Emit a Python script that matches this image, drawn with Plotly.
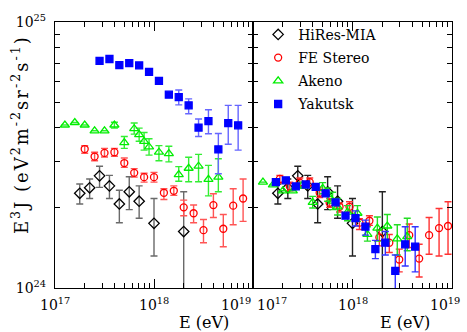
import plotly.graph_objects as go

# log10(E / eV) and E^3 J in units of 1e24 eV^2 m^-2 sr^-1 s^-1
# errors are given as (upper, lower) offsets in the same units

# ---- left panel: as published ----
HIRES_LGE = [17.25, 17.35, 17.45, 17.55, 17.65, 17.75, 17.85, 18.0, 18.3]
HIRES_J = [2.27, 2.38, 2.64, 2.42, 2.07, 2.30, 2.12, 1.75, 1.63]
HIRES_UP = [0.19, 0.19, 0.23, 0.23, 0.26, 0.32, 0.30, 0.42, 0.67]
HIRES_DN = [0.20, 0.21, 0.25, 0.25, 0.31, 0.33, 0.29, 0.43, 1.00]

FE_LGE = [17.3, 17.4, 17.5, 17.6, 17.7, 17.8, 17.9, 18.0, 18.1, 18.2,
          18.3, 18.4, 18.5, 18.6, 18.7, 18.8, 18.9]
FE_J = [3.33, 3.12, 3.22, 3.24, 2.95, 2.71, 2.61, 2.61, 2.28, 2.32,
        2.01, 1.91, 1.65, 2.05, 1.67, 2.04, 2.17]
FE_UP = [0.10, 0.12, 0.13, 0.11, 0.13, 0.10, 0.09, 0.11, 0.08, 0.10,
         0.13, 0.14, 0.16, 0.21, 0.22, 0.32, 0.40]
FE_DN = [0.12, 0.11, 0.11, 0.11, 0.11, 0.10, 0.11, 0.11, 0.13, 0.09,
         0.14, 0.15, 0.17, 0.21, 0.24, 0.31, 0.39]

AKENO_LGE = [17.1, 17.2, 17.3, 17.4, 17.5, 17.6, 17.7, 17.8, 17.85, 17.9,
             17.95, 18.05, 18.15, 18.25, 18.35, 18.45, 18.55, 18.65]
AKENO_J = [4.10, 4.19, 4.10, 3.90, 3.90, 4.10, 3.52, 3.97, 3.77, 3.56,
           3.39, 3.24, 3.20, 2.67, 2.82, 2.87, 2.56, 2.61]
AKENO_UP = [0, 0, 0, 0, 0, 0.10, 0.19, 0.20, 0.22, 0.28,
            0.25, 0.19, 0.21, 0.19, 0.28, 0.31, 0.33, 0.45]
AKENO_DN = [0, 0, 0, 0, 0, 0.11, 0.17, 0.18, 0.21, 0.26,
            0.23, 0.23, 0.22, 0.15, 0.31, 0.36, 0.34, 0.31]

YAK_LGE = [17.45, 17.55, 17.65, 17.75, 17.85, 17.95, 18.05, 18.15, 18.25,
           18.35, 18.45, 18.55, 18.65, 18.75, 18.85]
YAK_J = [7.14, 7.26, 6.89, 7.00, 6.87, 6.49, 6.01, 5.33, 5.22,
         4.86, 4.01, 4.24, 3.32, 4.17, 4.09]
YAK_UP = [0, 0, 0, 0, 0, 0, 0, 0, 0.33, 0.28, 0.31, 0.44, 0.49, 0.69, 0.77]
YAK_DN = [0, 0, 0, 0, 0, 0, 0, 0, 0.34, 0.34, 0.30, 0.44, 0.63, 0.70, 0.79]

# ---- right panel: energy scales adjusted ----
FE_R_LGE = [17.27, 17.37, 17.47, 17.57, 17.67, 17.77, 17.87, 17.97, 18.07,
            18.17, 18.27, 18.37, 18.47, 18.57, 18.67, 18.77, 18.87, 18.96]
FE_R_J = [2.57, 2.41, 2.49, 2.50, 2.28, 2.09, 2.02, 2.02, 1.76,
          1.79, 1.55, 1.48, 1.28, 1.58, 1.29, 1.58, 1.68, 1.71]
FE_R_UP = [0.08, 0.09, 0.10, 0.09, 0.10, 0.08, 0.07, 0.09, 0.06,
           0.08, 0.10, 0.11, 0.12, 0.16, 0.17, 0.26, 0.31, 0.40]
FE_R_DN = [0.09, 0.09, 0.09, 0.09, 0.09, 0.08, 0.09, 0.09, 0.10,
           0.07, 0.11, 0.12, 0.13, 0.16, 0.19, 0.24, 0.36, 0.37]

AKENO_R_LGE = [17.1, 17.2, 17.3, 17.4, 17.5, 17.6, 17.7, 17.75, 17.8,
               17.85, 17.95, 18.05, 18.15, 18.25, 18.35, 18.45, 18.55]
AKENO_R_J = [2.50, 2.44, 2.32, 2.32, 2.44, 2.10, 2.37, 2.25, 2.12,
             2.02, 1.93, 1.91, 1.59, 1.68, 1.71, 1.53, 1.56]
AKENO_R_UP = [0, 0, 0, 0, 0.06, 0.11, 0.12, 0.13, 0.17,
              0.15, 0.11, 0.13, 0.11, 0.17, 0.18, 0.20, 0.27]
AKENO_R_DN = [0, 0, 0, 0, 0.07, 0.10, 0.11, 0.13, 0.15,
              0.14, 0.14, 0.13, 0.09, 0.18, 0.21, 0.20, 0.18]

YAK_R_LGE = [17.23, 17.33, 17.43, 17.53, 17.63, 17.73, 17.83, 17.93, 18.03,
             18.13, 18.23, 18.33, 18.43, 18.53, 18.63]
YAK_R_J = [2.50, 2.54, 2.41, 2.45, 2.40, 2.27, 2.10, 1.87, 1.83,
           1.70, 1.40, 1.48, 1.16, 1.46, 1.43]
YAK_R_UP = [0, 0, 0, 0, 0, 0, 0, 0, 0.12, 0.10, 0.11, 0.15, 0.17, 0.24, 0.27]
YAK_R_DN = [0, 0, 0, 0, 0, 0, 0, 0, 0.12, 0.12, 0.11, 0.15, 0.22, 0.25, 0.28]

FONT = "DejaVu Serif"
SPLIT = 198 / 397


def series(name, lge, j, up, dn, symbol, color, ecolor, size, panel, legend):
    xa, ya = ("x", "y") if panel == 0 else ("x2", "y2")
    return go.Scatter(
        x=[10 ** v for v in lge],
        y=[v * 1e24 for v in j],
        mode="markers",
        name=name,
        legendgroup=name,
        showlegend=legend,
        xaxis=xa, yaxis=ya,
        marker=dict(symbol=symbol, color=color, size=size,
                    line=dict(color=color, width=1.3)),
        error_y=dict(type="data", symmetric=False,
                     array=[v * 1e24 for v in up],
                     arrayminus=[v * 1e24 for v in dn],
                     color=ecolor, thickness=1.4, width=3.5),
    )


traces = [
    series("HiRes-MIA", HIRES_LGE, HIRES_J, HIRES_UP, HIRES_DN,
           "diamond-open", "black", "#6a6a6a", 8, 0, True),
    series("FE Stereo", FE_LGE, FE_J, FE_UP, FE_DN,
           "circle-open", "#ff0000", "#ff5555", 7, 0, True),
    series("Akeno", AKENO_LGE, AKENO_J, AKENO_UP, AKENO_DN,
           "triangle-up-open", "#00ee00", "#33ee33", 8, 0, True),
    series("Yakutsk", YAK_LGE, YAK_J, YAK_UP, YAK_DN,
           "square", "#0000ff", "#6666ff", 7, 0, True),
    series("HiRes-MIA", HIRES_LGE, HIRES_J, HIRES_UP, HIRES_DN,
           "diamond-open", "black", "#222222", 8, 1, False),
    series("FE Stereo", FE_R_LGE, FE_R_J, FE_R_UP, FE_R_DN,
           "circle-open", "#ff0000", "#ff3333", 7, 1, False),
    series("Akeno", AKENO_R_LGE, AKENO_R_J, AKENO_R_UP, AKENO_R_DN,
           "triangle-up-open", "#00ee00", "#22dd22", 8, 1, False),
    series("Yakutsk", YAK_R_LGE, YAK_R_J, YAK_R_UP, YAK_R_DN,
           "square", "#0000ff", "#3333ff", 7, 1, False),
]

fig = go.Figure(traces)

MINOR_X = [k * 10 ** n for n in (17, 18) for k in range(2, 10)]
MINOR_Y = [k * 1e24 for k in range(2, 10)]

xcommon = dict(
    type="log", range=[17, 19], showgrid=False, zeroline=False,
    showline=True, linecolor="black", linewidth=1.3, mirror="ticks",
    ticks="inside", ticklen=9, tickwidth=1, tickcolor="black",
    tickvals=[1e17, 1e18, 1e19], showticklabels=False,
    minor=dict(tickvals=MINOR_X, ticks="inside", ticklen=5,
               tickcolor="black", tickwidth=1, showgrid=False),
)
ycommon = dict(
    type="log", range=[24, 25], showgrid=False, zeroline=False,
    showline=True, linecolor="black", linewidth=1.3, mirror="ticks",
    ticks="inside", ticklen=9, tickwidth=1, tickcolor="black",
    tickvals=[1e24, 1e25],
    minor=dict(tickvals=MINOR_Y, ticks="inside", ticklen=5,
               tickcolor="black", tickwidth=1, showgrid=False),
)

fig.update_layout(
    width=467, height=332,
    margin=dict(l=55, r=15, t=12, b=44),
    paper_bgcolor="white", plot_bgcolor="white",
    font=dict(family=FONT, size=13, color="black"),
    xaxis=dict(xcommon, domain=[0, SPLIT], anchor="y"),
    xaxis2=dict(xcommon, domain=[SPLIT, 1], anchor="y2"),
    yaxis=dict(ycommon, anchor="x", ticktext=["10<sup>24</sup>", "10<sup>25</sup>"],
               ticklabelstandoff=5, tickfont=dict(size=14)),
    yaxis2=dict(ycommon, anchor="x2", matches="y", showticklabels=False),
    legend=dict(x=SPLIT + 0.013, y=1.012, xanchor="left", yanchor="top",
                bgcolor="rgba(0,0,0,0)", font=dict(family=FONT, size=14),
                tracegroupgap=2, itemsizing="trace"),
    showlegend=True,
)

# x tick labels, nudged so the ones at the panel join do not collide
labels = [
    ("x", 17, "center", 0), ("x", 18, "center", 0), ("x", 19, "right", 0),
    ("x2", 17, "left", 2), ("x2", 18, "center", 0), ("x2", 19, "right", 10),
]
for xref, lg, anchor, dx in labels:
    fig.add_annotation(
        xref=xref, yref="paper", x=lg, y=0, yanchor="top", xanchor=anchor,
        xshift=dx, yshift=-5, showarrow=False,
        text="10<sup>%d</sup>" % lg, font=dict(family=FONT, size=14),
    )

for xref, xc in (("x", 18.51), ("x2", 18.53)):
    fig.add_annotation(
        xref=xref, yref="paper", x=xc, y=0, yanchor="top", xanchor="center",
        yshift=-23, showarrow=False, text="E (eV)",
        font=dict(family=FONT, size=16),
    )

fig.add_annotation(
    xref="paper", yref="paper", x=-0.088, y=0.575, xanchor="center",
    yanchor="middle", textangle=-90, showarrow=False,
    text=('<span style="letter-spacing:2px">E<sup>3</sup>J (eV<sup>2</sup>'
          'm<sup>-2</sup>sr<sup>-2</sup>s<sup>-1</sup>)</span>'),
    font=dict(family=FONT, size=18),
)

# drop the browser's default page margin so the figure sits at the corner
fig.write_html("out.html", config={"displayModeBar": False},
               post_script="document.body.style.margin='0';")
